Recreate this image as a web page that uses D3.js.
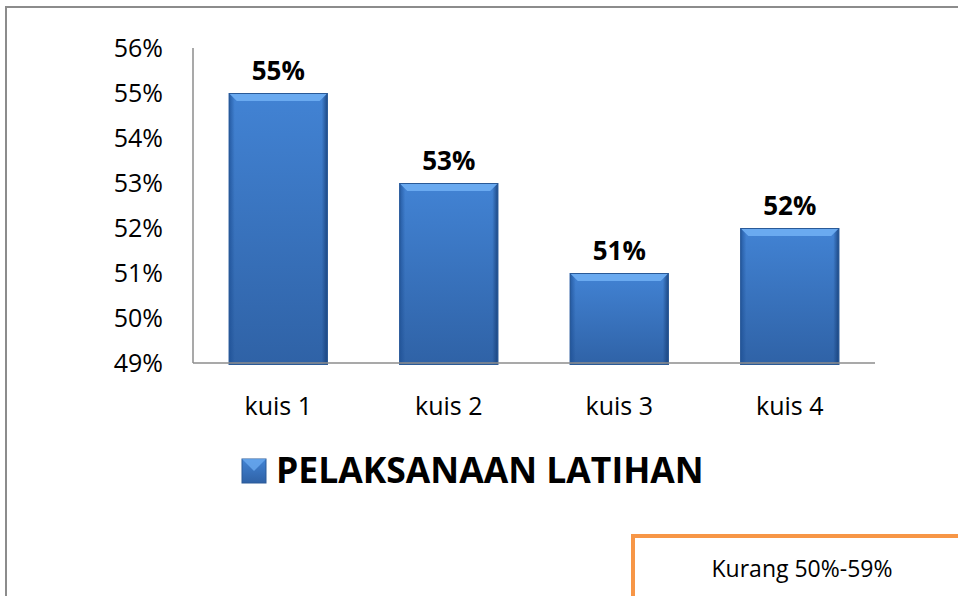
<!DOCTYPE html>
<html>
<head>
<meta charset="utf-8">
<script src="https://cdn.jsdelivr.net/npm/d3@7"></script>
<style>
  body { margin: 0; background: #fff; }
  text { font-family: "Open Sans", Lato, sans-serif; }
</style>
</head>
<body>
<div id="grafico"></div>
<script>
const WIDTH = 958;
const HEIGHT = 596;

// data
const categorias = ["kuis 1", "kuis 2", "kuis 3", "kuis 4"];
const valores = [55, 53, 51, 52];
const ticksY = [49, 50, 51, 52, 53, 54, 55, 56];
const serie = "PELAKSANAAN LATIHAN";
const nota = "Kurang 50%-59%";

let svg = d3.select("#grafico")
    .append("svg")
    .attr("width", WIDTH)
    .attr("height", HEIGHT);

// outer chart border (runs off the right and bottom)
svg.append("path")
    .attr("d", "M6," + (HEIGHT + 5) + " V7 H" + (WIDTH + 5))
    .style("fill", "none")
    .style("stroke", "#8c8c8c")
    .style("stroke-width", 2);

let x = d3.scaleBand()
    .domain(categorias)
    .range([193, 875])
    .paddingInner(0.42)
    .paddingOuter(0.21);

let y = d3.scaleLinear()
    .domain([49, 56])
    .range([363, 48]);

let defs = svg.append("defs");
let grad = defs.append("linearGradient")
    .attr("id", "barra")
    .attr("x1", 0).attr("y1", 0).attr("x2", 0).attr("y2", 1);
grad.append("stop").attr("offset", 0).attr("stop-color", "#4283d4");
grad.append("stop").attr("offset", 1).attr("stop-color", "#2f62a6");

let lados = defs.append("linearGradient")
    .attr("id", "lados")
    .attr("x1", 0).attr("y1", 0).attr("x2", 1).attr("y2", 0);
lados.append("stop").attr("offset", 0).attr("stop-color", "#1d4f94").attr("stop-opacity", 0.8);
lados.append("stop").attr("offset", 0.06).attr("stop-color", "#1d4f94").attr("stop-opacity", 0);
lados.append("stop").attr("offset", 0.94).attr("stop-color", "#173f78").attr("stop-opacity", 0);
lados.append("stop").attr("offset", 1).attr("stop-color", "#173f78").attr("stop-opacity", 0.9);

let barras = svg.append("g");

barras.selectAll(".bar")
    .data(valores)
    .enter()
    .append("rect")
    .attr("class", "bar")
    .attr("x", (d, i) => x(categorias[i]))
    .attr("y", d => y(d))
    .attr("width", x.bandwidth())
    .attr("height", d => y(49) - y(d) + 2)
    .style("fill", "url(#barra)");

barras.selectAll(".lado")
    .data(valores)
    .enter()
    .append("rect")
    .attr("class", "lado")
    .attr("x", (d, i) => x(categorias[i]))
    .attr("y", d => y(d))
    .attr("width", x.bandwidth())
    .attr("height", d => y(49) - y(d) + 2)
    .style("fill", "url(#lados)");

// top bevel
barras.selectAll(".bisel")
    .data(valores)
    .enter()
    .append("path")
    .attr("class", "bisel")
    .attr("d", (d, i) => {
        let x0 = x(categorias[i]), x1 = x0 + x.bandwidth(), y0 = y(d);
        return "M" + x0 + "," + y0 + " L" + x1 + "," + y0 +
            " L" + (x1 - 8) + "," + (y0 + 8) + " L" + (x0 + 8) + "," + (y0 + 8) + "Z";
    })
    .style("fill", "#6aaaf0");

barras.selectAll(".borde")
    .data(valores)
    .enter()
    .append("rect")
    .attr("class", "borde")
    .attr("x", (d, i) => x(categorias[i]) + 0.5)
    .attr("y", d => y(d) + 0.5)
    .attr("width", x.bandwidth() - 1)
    .attr("height", d => y(49) - y(d) + 1)
    .style("fill", "none")
    .style("stroke", "#2a5a98")
    .style("stroke-width", 1);

// axes
svg.append("line")
    .attr("x1", 193).attr("x2", 193)
    .attr("y1", y(56)).attr("y2", y(49))
    .style("stroke", "#8c8c8c").style("stroke-width", 1.5);
svg.append("line")
    .attr("x1", 193).attr("x2", 875)
    .attr("y1", y(49)).attr("y2", y(49))
    .style("stroke", "#8c8c8c").style("stroke-width", 1.5);

svg.selectAll(".ytick")
    .data(ticksY)
    .enter()
    .append("text")
    .attr("class", "ytick")
    .attr("x", 163)
    .attr("y", d => y(d))
    .attr("dy", "0.35em")
    .attr("text-anchor", "end")
    .style("font-size", "25px")
    .style("fill", "#000")
    .text(d => d + "%");

svg.selectAll(".xlab")
    .data(categorias)
    .enter()
    .append("text")
    .attr("class", "xlab")
    .attr("x", d => x(d) + x.bandwidth() / 2)
    .attr("y", 406)
    .attr("dy", "0.35em")
    .attr("text-anchor", "middle")
    .style("font-size", "25px")
    .style("fill", "#000")
    .text(d => d);

svg.selectAll(".valor")
    .data(valores)
    .enter()
    .append("text")
    .attr("class", "valor")
    .attr("x", (d, i) => x(categorias[i]) + x.bandwidth() / 2)
    .attr("y", d => y(d) - 22)
    .attr("dy", "0.35em")
    .attr("text-anchor", "middle")
    .style("font-size", "26px")
    .style("font-weight", "bold")
    .style("fill", "#000")
    .text(d => d + "%");

// legend
svg.append("rect")
    .attr("x", 242).attr("y", 459)
    .attr("width", 24).attr("height", 24)
    .style("fill", "url(#barra)")
    .style("stroke", "#2a5a98");
svg.append("path")
    .attr("d", "M242,459 L266,459 L254,471 Z")
    .style("fill", "#6aaaf0")
    .style("opacity", 0.8);
svg.append("text")
    .attr("x", 276).attr("y", 471)
    .attr("dy", "0.35em")
    .style("font-size", "35.5px")
    .style("font-weight", "bold")
    .style("fill", "#000")
    .text(serie);

// orange note box
svg.append("path")
    .attr("d", "M633," + (HEIGHT + 5) + " V536 H" + (WIDTH + 5))
    .style("fill", "none")
    .style("stroke", "#f79646")
    .style("stroke-width", 4);
svg.append("text")
    .attr("x", 802).attr("y", 569)
    .attr("dy", "0.35em")
    .attr("text-anchor", "middle")
    .style("font-size", "23px")
    .style("fill", "#000")
    .text(nota);
</script>
</body>
</html>
